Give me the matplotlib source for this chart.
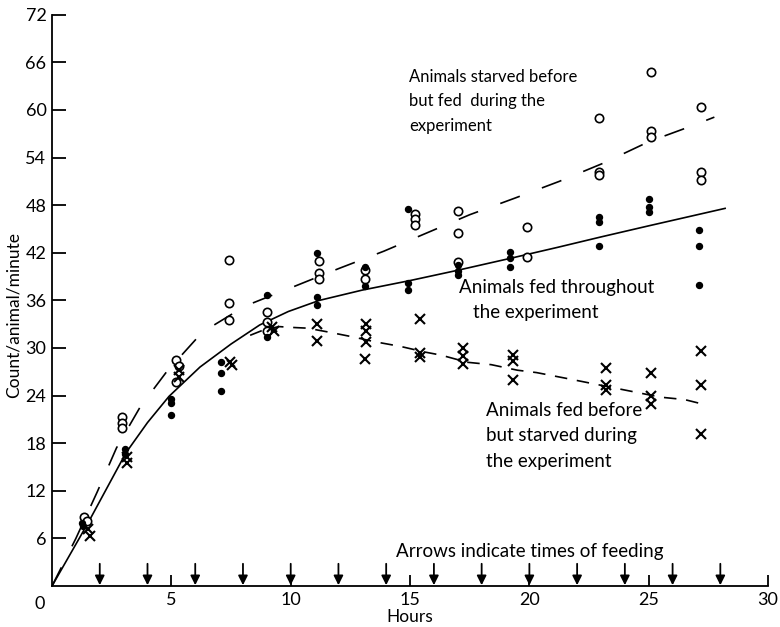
import numpy as np
import matplotlib
matplotlib.use("Agg")
import matplotlib.pyplot as plt

plt.rcParams['font.family'] = ['Lato', 'DejaVu Sans']
plt.rcParams['lines.scale_dashes'] = False

# open circles: animals starved before but fed during the experiment
starved_fed_h = [1.35, 1.45, 2.95, 2.95, 2.95, 5.2, 5.3, 5.2, 7.4, 7.4, 7.4,
                 9.0, 9.0, 9.0, 11.2, 11.2, 11.2, 13.1, 13.1, 15.2, 15.2, 15.2,
                 17.0, 17.0, 17.0, 19.9, 19.9, 22.9, 22.9, 22.9,
                 25.1, 25.1, 25.1, 27.2, 27.2, 27.2]
starved_fed_v = [8.7, 8.2, 21.3, 20.6, 19.9, 28.5, 27.7, 25.7, 41.1, 35.7, 33.5,
                 34.6, 33.3, 32.2, 41.0, 39.5, 38.7, 39.8, 38.7, 46.9, 46.3, 45.5,
                 47.3, 44.5, 40.9, 45.3, 41.5, 59.0, 52.2, 51.8,
                 64.8, 57.3, 56.6, 60.4, 52.2, 51.2]

# filled dots: animals fed throughout
fed_h = [1.25, 1.3, 3.05, 3.05, 5.0, 5.0, 5.0, 7.1, 7.1, 7.1, 9.0, 9.0,
         11.1, 11.1, 11.1, 13.1, 13.1, 14.9, 14.9, 14.9, 17.0, 17.0, 17.0,
         19.2, 19.2, 19.2, 22.9, 22.9, 22.9, 25.0, 25.0, 25.0, 27.1, 27.1, 27.1]
fed_v = [7.9, 7.5, 17.3, 16.6, 23.6, 23.1, 21.5, 28.2, 26.8, 24.6, 36.7, 31.4,
         42.0, 36.4, 35.4, 40.2, 37.8, 47.5, 38.2, 37.3, 40.4, 39.7, 39.2,
         42.1, 41.4, 40.2, 46.5, 45.9, 42.8, 48.8, 47.8, 47.2, 44.9, 42.8, 38.0]

# crosses: animals fed before but starved during the experiment
fed_starved_h = [1.5, 1.6, 3.15, 3.15, 5.3, 5.3, 7.45, 7.55, 9.2, 9.3,
                 11.1, 11.1, 13.15, 13.15, 13.15, 13.1, 15.4, 15.4, 15.4,
                 17.2, 17.2, 17.2, 19.3, 19.3, 19.3, 23.2, 23.2, 23.2,
                 25.1, 25.1, 25.1, 27.2, 27.2, 27.2]
fed_starved_v = [7.2, 6.3, 16.2, 15.5, 27.2, 26.3, 28.2, 27.8, 32.7, 32.2,
                 33.0, 30.9, 33.0, 32.2, 30.7, 28.6, 33.7, 29.4, 28.9,
                 30.0, 29.0, 28.0, 29.1, 28.4, 26.0, 27.5, 25.3, 24.7,
                 26.9, 23.9, 23.0, 29.6, 25.3, 19.2]

# fitted curves
fit_fed_h = [0, 1.5, 3.1, 4.0, 4.9, 6.2, 7.5, 8.7, 9.9, 11.2, 13.0,
             15.0, 17.0, 19.2, 21.2, 23.0, 25.0, 28.2]
fit_fed_v = [0, 7.9, 16.8, 20.6, 23.9, 27.6, 30.5, 32.9, 34.6, 36.0, 37.3,
             38.5, 39.8, 41.3, 42.7, 44.0, 45.4, 47.6]

fit_starved_fed_h = [0, 1.0, 1.9, 2.7, 3.7, 4.8, 6.3, 8.1, 10.1, 12.0, 13.9,
                     15.7, 17.5, 19.4, 21.25, 23.1, 25.0, 26.9, 27.75]
fit_starved_fed_v = [0, 6.0, 11.9, 17.4, 22.6, 27.0, 32.0, 35.3, 37.7, 40.0, 42.2,
                     44.5, 46.8, 48.9, 51.0, 53.3, 56.0, 58.1, 59.1]

fit_fed_starved_h = [8.3, 8.8, 9.5, 10.0, 10.7, 11.6, 12.6, 13.5, 14.6, 15.6,
                     16.3, 17.4, 18.4, 19.5, 20.3, 21.5, 22.5, 24.0, 25.5,
                     26.5, 27.3]
fit_fed_starved_v = [31.6, 32.2, 32.7, 32.6, 32.5, 32.0, 31.4, 30.8, 30.2, 29.5,
                     29.1, 28.2, 27.9, 27.2, 26.9, 26.2, 25.6, 24.7, 23.8,
                     23.5, 22.9]

feed_times = [2, 4, 6, 8, 10, 12, 14, 16, 18, 20, 22, 24, 26, 28]

fig = plt.figure(figsize=(7.8, 6.27), dpi=100)
ax = fig.add_axes([0.0667, 0.0654, 0.918, 0.911])

ax.plot(fit_fed_h, fit_fed_v, color='black', lw=1.2)
ax.plot(fit_starved_fed_h, fit_starved_fed_v, color='black', lw=1.2,
        dashes=(15, 17))
ax.plot(fit_fed_starved_h, fit_fed_starved_v, color='black', lw=1.2,
        dashes=(9, 7))

ax.plot(starved_fed_h, starved_fed_v, 'o', ms=6, mfc='white', mec='black',
        mew=1.2, ls='none')
ax.plot(fed_h, fed_v, 'o', ms=4.3, color='black', ls='none')
ax.plot(fed_starved_h, fed_starved_v, 'x', ms=6.5, mew=1.5, color='black',
        ls='none')

# feeding arrows along the time axis
for t in feed_times:
    ax.annotate('', xy=(t, 0.1), xytext=(t, 2.8),
                arrowprops=dict(arrowstyle='-|>', color='black', lw=1.3,
                                mutation_scale=14, shrinkA=0, shrinkB=0))

ax.set_xlim(0, 30)
ax.set_ylim(0, 72)
ax.set_xticks([5, 10, 15, 20, 25, 30])
ax.set_yticks(np.arange(6, 73, 6))
ax.tick_params(direction='in', length=8, width=1.3, labelsize=13, pad=4)
ax.tick_params(axis='y', length=10)
ax.annotate('0', xy=(0, 0), xytext=(-9, -7), textcoords='offset points',
            ha='center', va='top', fontsize=13)

for side in ['top', 'right']:
    ax.spines[side].set_visible(False)
for side in ['left', 'bottom']:
    ax.spines[side].set_linewidth(1.3)

ax.set_xlabel('Hours', fontsize=12.5, labelpad=1)
ax.set_ylabel('Count/animal/minute', fontsize=12.5)
ax.yaxis.set_label_coords(-0.042, 0.475)

ax.text(14.95, 65.2, 'Animals starved before\nbut fed  during the\nexperiment',
        fontsize=12, ha='left', va='top', linespacing=1.65)
ax.text(17.05, 37.6, 'Animals fed throughout', fontsize=13.5, ha='left', va='center')
ax.text(17.65, 34.5, 'the experiment', fontsize=13.5, ha='left', va='center')
ax.text(18.2, 23.2, 'Animals fed before\nbut starved during\nthe experiment',
        fontsize=13.5, ha='left', va='top', linespacing=1.6)
ax.text(14.4, 4.3, 'Arrows indicate times of feeding', fontsize=13.5,
        ha='left', va='center')

fig.savefig('out.png', dpi=100)
